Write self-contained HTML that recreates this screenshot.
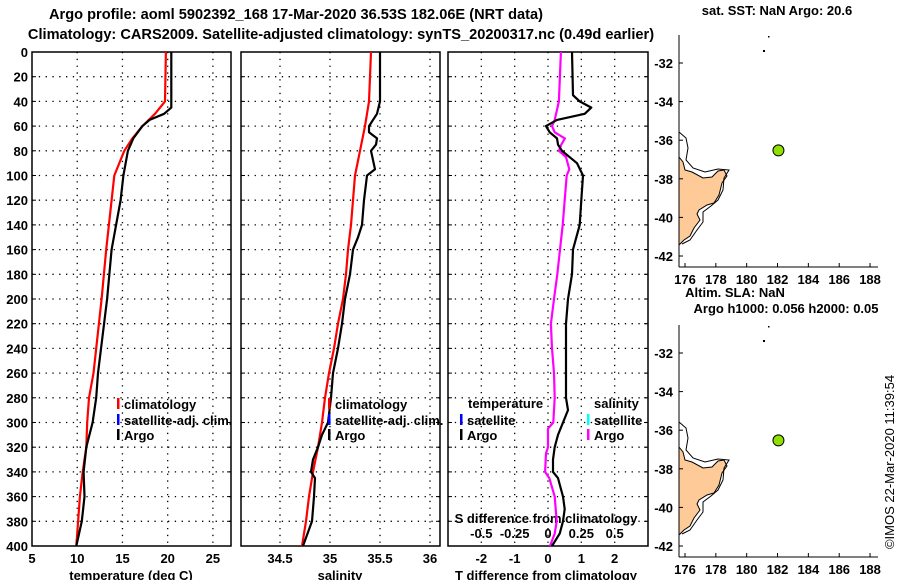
<!DOCTYPE html>
<html><head><meta charset="utf-8"><style>
body{margin:0;background:#fff;width:900px;height:580px;overflow:hidden}
svg{display:block;font-family:"Liberation Sans",sans-serif}
.t{font-size:13px;font-weight:bold;fill:#000}
.ti{font-size:14.6px;fill:#000;font-weight:bold}
</style></head><body>
<svg id="s" width="900" height="580">
<text class="ti" x="296" y="19" text-anchor="middle">Argo profile: aoml 5902392_168 17-Mar-2020 36.53S 182.06E (NRT data)</text>
<text class="ti" x="341" y="39" text-anchor="middle">Climatology: CARS2009. Satellite-adjusted climatology: synTS_20200317.nc (0.49d earlier)</text>
</svg>
<script>
// ---- data ----
const depthTicks=[0,20,40,60,80,100,120,140,160,180,200,220,240,260,280,300,320,340,360,380,400];
const tempTicks=[5,10,15,20,25];
const salTicks=[34.5,35,35.5,36];
const tdTicks=[-2,-1,0,1,2];
const sdTicks=[-0.5,-0.25,0,0.25,0.5];
const sdTickLabels=["-0.5","-0.25","0","0.25","0.5"];
const tempClimD=[0,40,50,60,70,80,100,120,160,200,260,280,300,320,340,360,380,400];
const tempClimV=[19.8,19.7,18.6,17.2,16.1,15.2,14.1,13.8,13.2,12.7,11.8,11.3,11.1,11.0,10.6,10.3,10.1,9.9];
const tempArgoD=[0,45,50,55,60,70,80,100,120,160,200,260,280,300,320,340,360,380,400];
const tempArgoV=[20.4,20.4,19.6,18.0,17.2,16.2,15.6,15.1,14.8,13.8,13.3,12.3,12.1,11.7,11.0,10.7,10.8,10.5,9.9];
const salClimD=[0,40,50,60,80,100,120,140,160,180,200,220,240,260,280,300,320,340,360,380,400];
const salClimV=[35.41,35.39,35.37,35.35,35.30,35.25,35.23,35.21,35.18,35.16,35.13,35.08,35.04,34.99,34.95,34.92,34.88,34.83,34.79,34.76,34.72];
const salArgoD=[0,40,50,60,65,70,75,80,95,100,120,140,150,160,180,200,220,240,260,280,300,305,310,320,330,340,345,360,380,400];
const salArgoV=[35.50,35.50,35.47,35.39,35.39,35.47,35.46,35.41,35.45,35.37,35.34,35.32,35.28,35.23,35.20,35.15,35.12,35.08,35.03,35.01,34.98,34.95,34.92,34.88,34.83,34.81,34.85,34.84,34.82,34.73];
const tdArgoD=[0,35,40,45,50,55,60,65,70,75,80,90,100,120,140,160,180,200,220,240,260,280,290,300,310,320,330,340,345,360,370,380,390,400];
const tdArgoV=[0.72,0.75,0.95,1.3,1.1,0.27,-0.06,0.05,0.27,0.3,0.42,0.87,1.05,1.0,0.95,0.75,0.72,0.6,0.54,0.54,0.54,0.54,0.6,0.45,0.3,0.2,0.15,0.15,0.3,0.45,0.5,0.45,0.35,0.12];
const sdArgoD=[0,40,55,60,65,70,75,80,85,95,100,140,160,180,200,220,240,260,280,300,305,320,325,340,345,360,380,390,400];
const sdArgoV=[0.097,0.082,0.05,0.03,0.05,0.127,0.10,0.082,0.135,0.16,0.14,0.11,0.09,0.07,0.045,0.022,0.03,0.045,0.05,0.04,0.0,0.0,-0.015,-0.022,0.01,0.05,0.065,0.05,0.015];
const lonTicks=[176,178,180,182,184,186,188];
const latTicks=[-32,-34,-36,-38,-40,-42];
const argoLon=[182.06];
const argoLat=[-36.53];
// ---- helpers ----
const S=document.getElementById('s'),NS='http://www.w3.org/2000/svg';
function mk(t,a,p){const e=document.createElementNS(NS,t);for(const k in a)e.setAttribute(k,a[k]);(p||S).appendChild(e);return e;}
function txt(x,y,s,anchor,cls){const e=mk('text',{x:x,y:y,'text-anchor':anchor||'middle','class':cls||'t'});e.textContent=s;return e;}
const Y0=52,Y1=546;
const yD=d=>Y0+(d/400)*(Y1-Y0);
function panel(x0,x1,vmin,vmax,name){
 const sx=v=>x0+(v-vmin)/(vmax-vmin)*(x1-x0);
 return {x0,x1,sx,name};
}
const P1=panel(32,231,5,27,'temperature');
const P2=panel(241,440,34.11,36.1,'salinity');
const P3=panel(448,648,-3,3,'difference');
const sdx=v=>P3.sx(v*4);
function grid(P,ticks){
 const g=mk('g',{});
 
 
 ticks.forEach(v=>{const x=P.sx(v);if(x>P.x0+2&&x<P.x1-2)mk('line',{x1:x,x2:x,y1:Y0,y2:Y1,stroke:'#000','stroke-width':1.3,'stroke-dasharray':'1.3,5.5'},g);});
 depthTicks.forEach(d=>{const y=yD(d);if(d>0&&d<400)mk('line',{x1:P.x0,x2:P.x1,y1:y,y2:y,stroke:'#000','stroke-width':1.3,'stroke-dasharray':'1.3,5.5'},g);
  mk('line',{x1:P.x0,x2:P.x0+4,y1:y,y2:y,stroke:'#000'},g);mk('line',{x1:P.x1-4,x2:P.x1,y1:y,y2:y,stroke:'#000'},g);});
 const r=mk('rect',{x:P.x0,y:Y0,width:P.x1-P.x0,height:Y1-Y0,fill:'none',stroke:'#000','stroke-width':1.5});
 
 
}
function line(D,V,fx,color,name){
 const pts=D.map((d,i)=>fx(V[i]).toFixed(1)+','+yD(d).toFixed(1)).join(' ');
 const e=mk('polyline',{points:pts,fill:'none',stroke:color,'stroke-width':2.2,'stroke-linejoin':'round'});
 
 
}
grid(P1,tempTicks);grid(P2,salTicks);grid(P3,tdTicks);
depthTicks.forEach(d=>{const e=txt(28,yD(d)+5,String(d),'end');});
tempTicks.forEach(v=>{const e=txt(P1.sx(v),563,String(v));});
salTicks.forEach(v=>{const e=txt(P2.sx(v),563,String(v));});
tdTicks.forEach(v=>{const e=txt(P3.sx(v),563,String(v));});
sdTicks.forEach((v,i)=>{const e=txt(sdx(v),538,sdTickLabels[i]);});
let e;
e=txt(131,580,'temperature (deg C)');
e=txt(340,580,'salinity');
e=txt(546,580,'T difference from climatology');
e=txt(546,523,'S difference from climatology');
line(tempClimD,tempClimV,P1.sx,'#f00','temperature-climatology-line');
line(tempArgoD,tempArgoV,P1.sx,'#000','temperature-argo-line');
line(salClimD,salClimV,P2.sx,'#f00','salinity-climatology-line');
line(salArgoD,salArgoV,P2.sx,'#000','salinity-argo-line');
line(sdArgoD,sdArgoV,sdx,'#f0f','s-diff-argo-line');
line(tdArgoD,tdArgoV,P3.sx,'#000','t-diff-argo-line');
function leg(x,y,color,label,name){
 const g=mk('g',{});
 
 
 mk('rect',{x:x-1,y:y-7,width:2.5,height:11,fill:color},g);
 const t=mk('text',{x:x+6,y:y+4,'class':'t'},g);t.textContent=label;
}
leg(118,405,'#f00','climatology','legend-climatology');
leg(118,421,'#00f','satellite-adj. clim.','legend-satellite-adj');
leg(118,436,'#000','Argo','legend-argo');
leg(329,405,'#f00','climatology','legend-climatology-2');
leg(329,421,'#00f','satellite-adj. clim.','legend-satellite-adj-2');
leg(329,436,'#000','Argo','legend-argo-2');
e=txt(468,408,'temperature','start');
e=txt(594,408,'salinity','start');
leg(461,421,'#00f','satellite','legend-t-satellite');
leg(461,436,'#000','Argo','legend-t-argo');
leg(588,421,'#0ff','satellite','legend-s-satellite');
leg(588,436,'#f0f','Argo','legend-s-argo');
function map(top,name){
 const X0=679,X1=878,yTop=top,yBot=top+232;
 const lx=v=>685+(v-176)*15.42;
 const ly=v=>top+28+(-32-v)*19.3;
 const g=mk('g',{});
 
 
 const dy=top-35;
 const land=[[679,157],[683,162],[685,170],[692,172],[703,178],[712,177],[718,171],[724,170],[727,176],[722,183],[719,195],[714,203],[707,205],[699,210],[697,214],[700,220],[694,228],[690,236],[684,240],[679,245]];
 mk('polygon',{points:land.map(p=>p[0]+','+(p[1]+dy)).join(' '),fill:'#fdca98',stroke:'#000','stroke-width':1},g);
 const cont=[[679,132],[686,138],[688,148],[686,160],[693,168],[705,172],[718,169],[729,170],[724,178],[723,190],[718,200],[711,206],[703,212],[703,222],[697,230],[690,240],[682,244]];
 mk('polyline',{points:cont.map(p=>p[0]+','+(p[1]+dy)).join(' '),fill:'none',stroke:'#000','stroke-width':1},g);
 mk('rect',{x:763,y:50+dy,width:2,height:2,fill:'#000'},g);
 mk('rect',{x:768,y:36+dy,width:1.5,height:1.5,fill:'#000'},g);
 mk('line',{x1:X0,x2:X0,y1:yTop,y2:yBot,stroke:'#000'},g);
 mk('line',{x1:X0,x2:X1,y1:yBot,y2:yBot,stroke:'#000'},g);
 lonTicks.forEach(v=>{mk('line',{x1:lx(v),x2:lx(v),y1:yBot,y2:yBot-4,stroke:'#000'},g);const t=txt(lx(v),yBot+17,String(v));});
 latTicks.forEach(v=>{mk('line',{x1:X0,x2:X0+4,y1:ly(v),y2:ly(v),stroke:'#000'},g);const t=txt(673,ly(v)+5,String(v),'end');});
 argoLon.forEach((lo,i)=>{const c=mk('circle',{cx:lx(lo),cy:ly(argoLat[i]),r:5.5,fill:'#8fe000',stroke:'#000'},g);});
}
map(35,'sst-map');
map(325,'sla-map');
e=txt(777,15,'sat. SST: NaN Argo: 20.6');
e=txt(735,297,'Altim. SLA: NaN');
e=txt(786,313,'Argo h1000: 0.056 h2000: 0.05');
e=mk('text',{x:0,y:0,'text-anchor':'middle',transform:'translate(894,462) rotate(-90)',style:'font-size:13px;font-family:"Liberation Sans",sans-serif'});
e.textContent='©IMOS 22-Mar-2020 11:39:54';


</script>
</body></html>
